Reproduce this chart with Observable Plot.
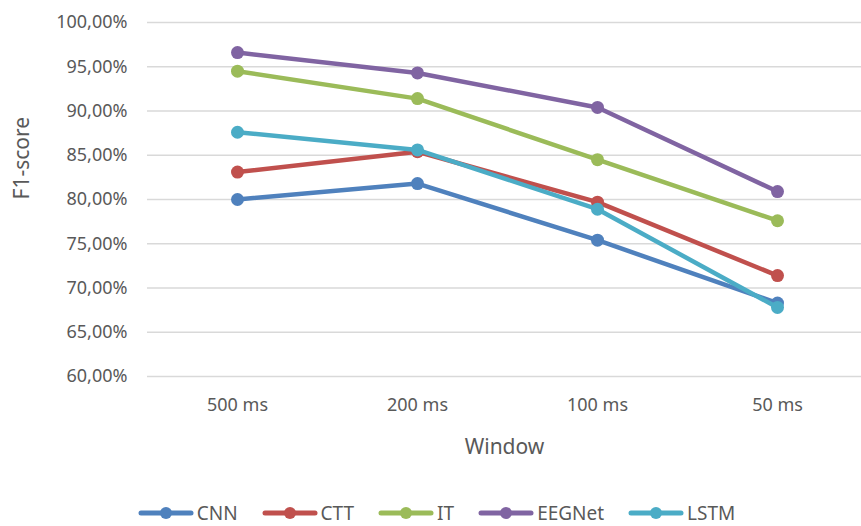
<!DOCTYPE html>
<html>
<head>
<meta charset="utf-8">
<script src="https://cdn.jsdelivr.net/npm/d3@7"></script>
<script src="https://cdn.jsdelivr.net/npm/@observablehq/plot@0.6"></script>
<style>
  html, body { margin: 0; padding: 0; background: #fff; }
  #chart { width: 861px; font-family: "Noto Sans", sans-serif; color: #595959; }
  .legend { display: flex; justify-content: center; gap: 24px; margin-top: 21px; font-size: 19px; line-height: 24px; padding-left: 12px; }
  .legend .item { display: flex; align-items: center; gap: 3px; }
</style>
</head>
<body>
<div id="chart"></div>
<script>
const windows = ["500 ms", "200 ms", "100 ms", "50 ms"];
const seriesNames = ["CNN", "CTT", "IT", "EEGNet", "LSTM"];
const seriesColors = ["#4f81bd", "#c0504d", "#9bbb59", "#8064a2", "#4bacc6"];
const cnn    = [0.800, 0.818, 0.754, 0.683];
const ctt    = [0.831, 0.854, 0.797, 0.714];
const it     = [0.945, 0.914, 0.845, 0.776];
const eegnet = [0.966, 0.943, 0.904, 0.809];
const lstm   = [0.876, 0.856, 0.789, 0.678];
const yTicks = [0.60, 0.65, 0.70, 0.75, 0.80, 0.85, 0.90, 0.95, 1.00];

const seriesValues = [cnn, ctt, it, eegnet, lstm];
const data = [];
seriesNames.forEach((s, i) => windows.forEach((w, j) => data.push({series: s, window: w, value: seriesValues[i][j]})));

const fmt = d => (d * 100).toFixed(2).replace(".", ",") + "%";
const font = '"Noto Sans", sans-serif';

const marks = [
  Plot.ruleY(yTicks, {stroke: "#d9d9d9", strokeWidth: 1.5}),
];
seriesNames.forEach((s, i) => {
  const d = data.filter(r => r.series === s);
  marks.push(Plot.line(d, {x: "window", y: "value", stroke: seriesColors[i], strokeWidth: 4.5}));
  marks.push(Plot.dot(d, {x: "window", y: "value", fill: seriesColors[i], r: 6.5}));
});

const plot = Plot.plot({
  width: 861,
  height: 480,
  marginLeft: 147,
  marginRight: 0,
  marginTop: 22,
  marginBottom: 104,
  style: {fontFamily: font, fontSize: "18px", color: "#595959", background: "#fff", overflow: "visible"},
  x: {type: "point", domain: windows, range: [237, 777], padding: 0, label: null},
  y: {domain: [0.6, 1.0], label: null},
  marks: [
    ...marks,
    Plot.axisX({tickSize: 0, tickPadding: 22, label: null, fontSize: 18}),
    Plot.axisY(yTicks, {tickSize: 0, tickPadding: 20, tickFormat: fmt, label: null, fontSize: 18}),
    Plot.text(["Window"], {frameAnchor: "bottom", dy: 77, fontSize: 21, fill: "#595959"}),
    Plot.text(["F1-score"], {frameAnchor: "left", dx: -125, rotate: -90, fontSize: 21, fill: "#595959"})
  ]
});
document.getElementById("chart").appendChild(plot);

const legend = document.createElement("div");
legend.className = "legend";
seriesNames.forEach((s, i) => {
  const item = document.createElement("div");
  item.className = "item";
  item.innerHTML = `<svg width="56" height="14"><line x1="3" y1="7" x2="53" y2="7" stroke="${seriesColors[i]}" stroke-width="5" stroke-linecap="round"/><circle cx="28" cy="7" r="6" fill="${seriesColors[i]}"/></svg><span>${s}</span>`;
  legend.appendChild(item);
});
document.getElementById("chart").appendChild(legend);
</script>
</body>
</html>
